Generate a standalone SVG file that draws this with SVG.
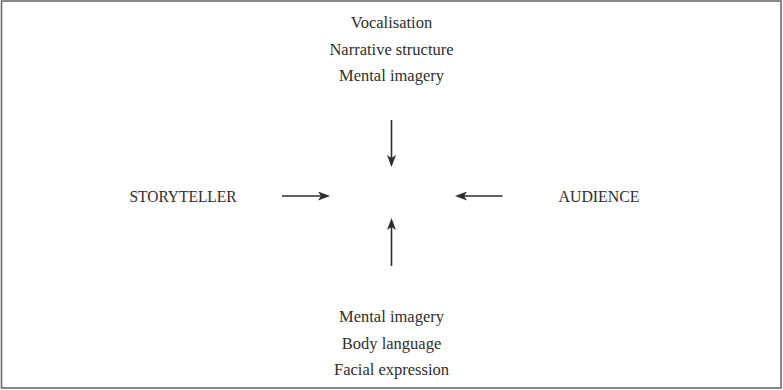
<svg xmlns="http://www.w3.org/2000/svg" width="783" height="390" viewBox="0 0 783 390">
  <style>
    text { font-family: "Liberation Serif", "Times New Roman", serif; font-size: 16.5px; fill: #2e2e2e; text-anchor: middle; }
    .conn { stroke: #2e2e2e; stroke-width: 1.6; fill: none; }
  </style>
  <defs>
    <marker id="arrow" markerUnits="userSpaceOnUse" markerWidth="12" markerHeight="9" refX="3" refY="4.5" orient="auto">
      <path d="M0,0 L12,4.5 L0,9 L3,4.5 z" fill="#2e2e2e"/>
    </marker>
  </defs>
  <rect x="1.5" y="1" width="779.5" height="387" fill="#ffffff" stroke="#6b6b6b" stroke-width="1.6"/>
  <g id="top-factors">
    <text x="391.5" y="28">Vocalisation</text>
    <text x="391.5" y="54.5">Narrative structure</text>
    <text x="391.5" y="81">Mental imagery</text>
  </g>
  <g id="storyteller">
    <text x="183" y="201.5" textLength="107" lengthAdjust="spacingAndGlyphs">STORYTELLER</text>
  </g>
  <g id="audience">
    <text x="599" y="201.5" textLength="81" lengthAdjust="spacingAndGlyphs">AUDIENCE</text>
  </g>
  <g id="bottom-factors">
    <text x="391.5" y="322">Mental imagery</text>
    <text x="391.5" y="348.5">Body language</text>
    <text x="391.5" y="375">Facial expression</text>
  </g>
  <g id="connectors">
    <line class="conn" x1="391.5" y1="120" x2="391.5" y2="158" marker-end="url(#arrow)"/>
    <line class="conn" x1="391.5" y1="266" x2="391.5" y2="227" marker-end="url(#arrow)"/>
    <line class="conn" x1="282" y1="196" x2="321" y2="196" marker-end="url(#arrow)"/>
    <line class="conn" x1="502.5" y1="196" x2="464" y2="196" marker-end="url(#arrow)"/>
  </g>
</svg>
